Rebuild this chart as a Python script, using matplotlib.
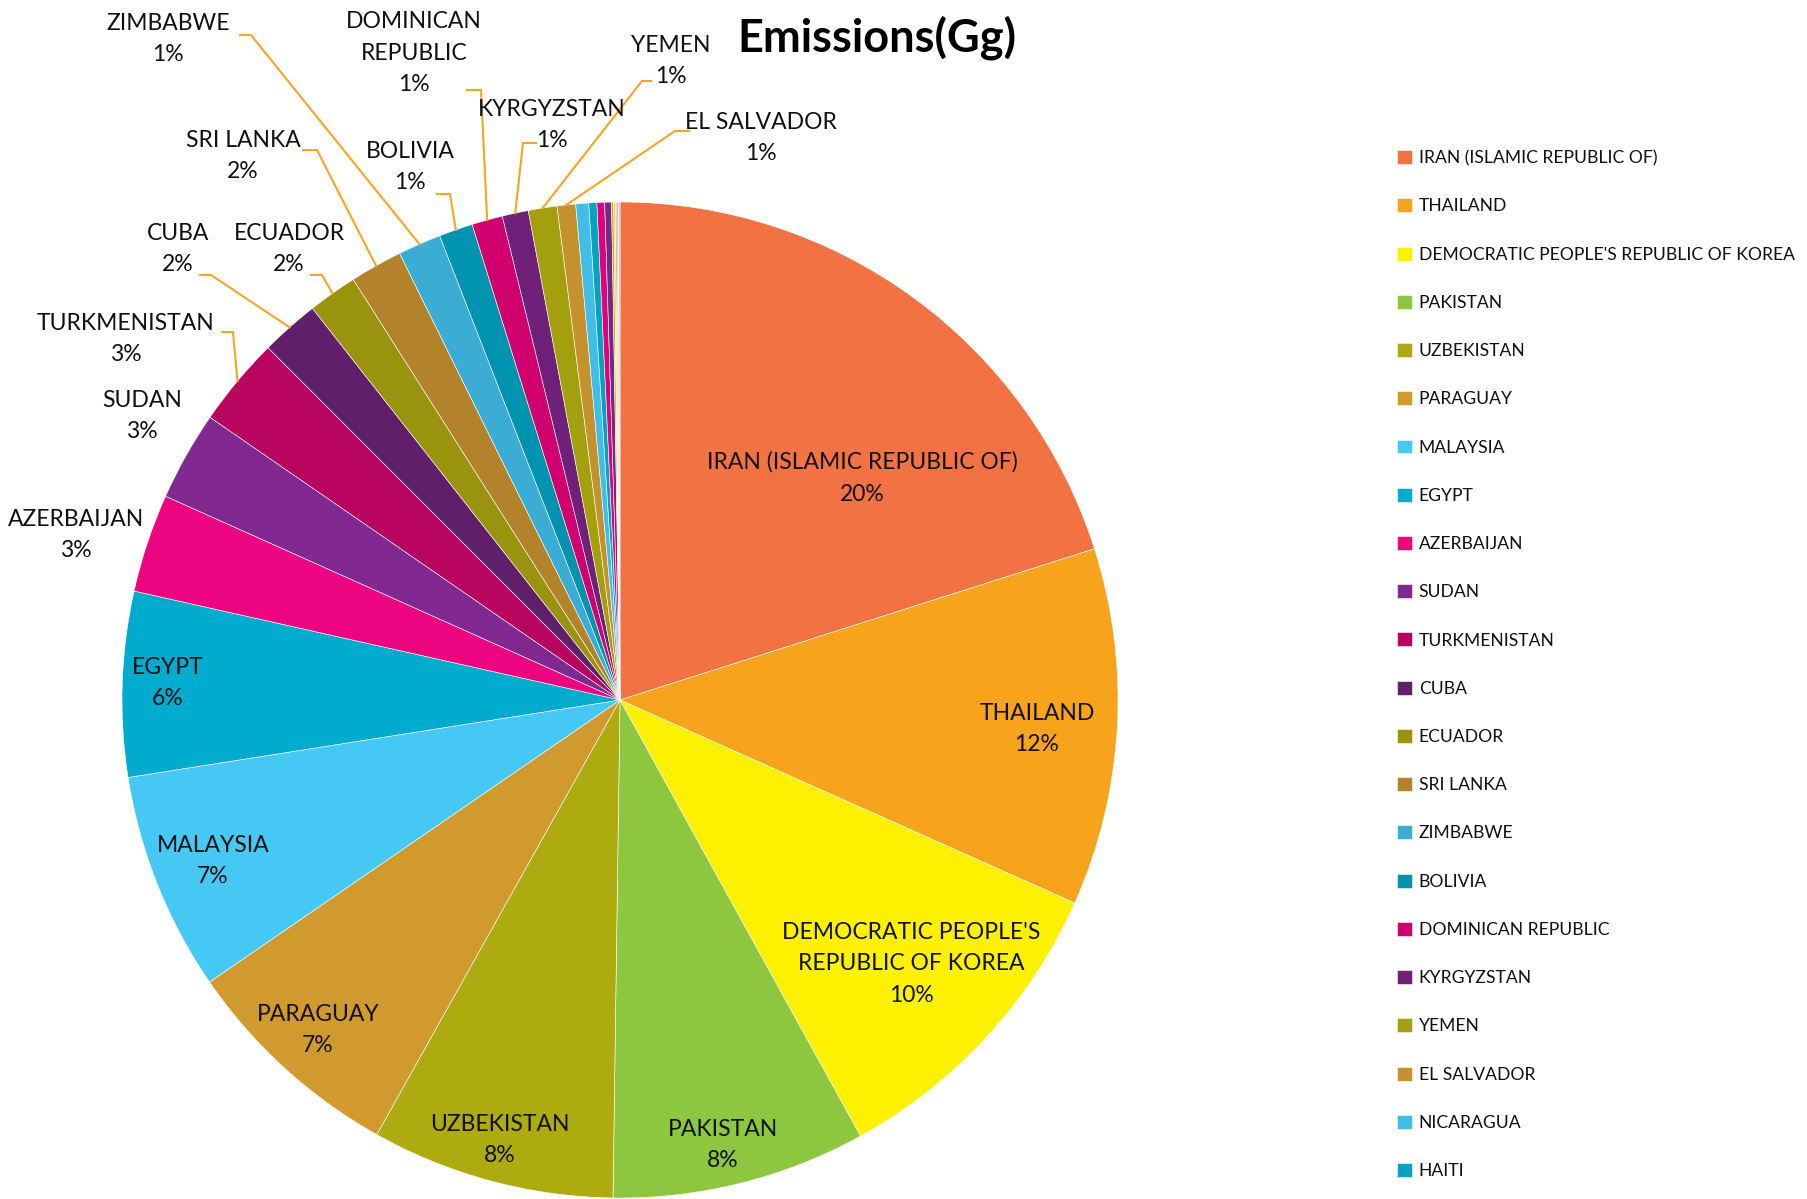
import matplotlib.pyplot as plt
import numpy as np

# share of emissions (%)
countries = ["IRAN (ISLAMIC REPUBLIC OF)", "THAILAND", "DEMOCRATIC PEOPLE'S REPUBLIC OF KOREA",
             "PAKISTAN", "UZBEKISTAN", "PARAGUAY", "MALAYSIA", "EGYPT", "AZERBAIJAN", "SUDAN",
             "TURKMENISTAN", "CUBA", "ECUADOR", "SRI LANKA", "ZIMBABWE", "BOLIVIA",
             "DOMINICAN REPUBLIC", "KYRGYZSTAN", "YEMEN", "EL SALVADOR", "NICARAGUA", "HAITI",
             "OTHER 1", "OTHER 2", "OTHER 3", "OTHER 4", "OTHER 5", "OTHER 6", "OTHER 7"]
shares = [20.1, 11.6, 10.3, 8.25, 7.9, 7.3, 7.1, 6.0, 3.2, 2.9,
          2.9, 1.9, 1.6, 1.7, 1.4, 1.1, 1.0, 0.85, 0.93, 0.6, 0.42, 0.26,
          0.25, 0.22, 0.07, 0.05, 0.05, 0.05, 0.05]
colors = ["#F27244", "#F7A31C", "#FEF100", "#8DC63F", "#ADAB0F", "#D09A2E", "#45C8F4",
          "#00ABCE", "#EC0480", "#812990", "#B8045E", "#601E6B", "#99930E", "#B2832A",
          "#3BADD5", "#0093AF", "#D0006F", "#6F2079", "#A39F0D", "#C4912C", "#42BDE6",
          "#00A3C2", "#E0007A", "#762983", "#B5B314", "#F0D030", "#E8A070", "#D8A0C8",
          "#C0C0C0"]
n_legend = 22

# names as wrapped on the chart labels
wrapped = {"DEMOCRATIC PEOPLE'S REPUBLIC OF KOREA": "DEMOCRATIC PEOPLE'S\nREPUBLIC OF KOREA",
           "DOMINICAN REPUBLIC": "DOMINICAN\nREPUBLIC"}

W, H = 1808, 1199
def Y(y):
    return H - y

# label centres in pixels (from top-left)
inside_pos = {"IRAN (ISLAMIC REPUBLIC OF)": (862, 478), "THAILAND": (1037, 729),
              "DEMOCRATIC PEOPLE'S REPUBLIC OF KOREA": (911, 964), "PAKISTAN": (723, 1145),
              "UZBEKISTAN": (500, 1140), "PARAGUAY": (318, 1030), "MALAYSIA": (213, 861),
              "EGYPT": (168, 683)}
outside_pos = {"AZERBAIJAN": (76, 535), "SUDAN": (142, 416), "TURKMENISTAN": (126, 339),
               "CUBA": (178, 249), "ECUADOR": (289, 249), "SRI LANKA": (243, 156),
               "ZIMBABWE": (168, 39), "BOLIVIA": (410, 167), "DOMINICAN REPUBLIC": (414, 53),
               "KYRGYZSTAN": (552, 125), "YEMEN": (671, 61), "EL SALVADOR": (761, 138)}
# leader line start and elbow
leaders = {"TURKMENISTAN": [(222, 332), (233, 332)], "CUBA": [(200, 275), (211, 275)],
           "ECUADOR": [(311, 275), (322, 275)], "SRI LANKA": [(303, 150), (317, 150)],
           "ZIMBABWE": [(240, 35), (251, 35)], "BOLIVIA": [(437, 194), (450, 194)],
           "DOMINICAN REPUBLIC": [(467, 90), (481, 90)], "KYRGYZSTAN": [(536, 143), (523, 143)],
           "YEMEN": [(651, 81), (642, 81)], "EL SALVADOR": [(689, 131), (675, 131)]}

cx, cy, R = 620, 700, 498
label_font = ["Lato", "DejaVu Sans"]

fig = plt.figure(figsize=(W / 100, H / 100), dpi=100)
ax = fig.add_axes([0, 0, 1, 1])

wedges, _ = ax.pie(shares, colors=colors, startangle=90, counterclock=False,
                   center=(cx, Y(cy)), radius=R, frame=True,
                   wedgeprops=dict(edgecolor="white", linewidth=0.4))
ax.set_xlim(0, W)
ax.set_ylim(0, H)
ax.set_aspect("equal")
ax.axis("off")

total = sum(shares)
for name, val, w in zip(countries, shares, wedges):
    txt = f"{wrapped.get(name, name)}\n{round(val / total * 100)}%"
    if name in inside_pos:
        x, y = inside_pos[name]
    elif name in outside_pos:
        x, y = outside_pos[name]
    else:
        continue
    ax.text(x, Y(y), txt, ha="center", va="center", fontsize=16.5, family=label_font,
            linespacing=1.62, color="#111111")
    if name in leaders:
        ang = np.deg2rad((w.theta1 + w.theta2) / 2)
        ex = cx + R * np.cos(ang)
        ey = Y(cy) + R * np.sin(ang)
        (x0, y0), (x1, y1) = leaders[name]
        ax.plot([x0, x1, ex], [Y(y0), Y(y1), ey], color="#F5A623", lw=1.5,
                solid_joinstyle="miter")

ax.text(877, Y(38), "Emissions(Gg)", ha="center", va="center", fontsize=32.5,
        fontweight="bold", family=label_font)

leg = ax.legend(wedges[:n_legend], countries[:n_legend], loc="upper left",
                bbox_to_anchor=(1390 / W, 1 - 143 / H), frameon=False,
                prop={"family": label_font, "size": 12.6},
                handlelength=0.85, handleheight=0.85, handletextpad=0.4,
                labelspacing=1.84, borderaxespad=0)
for t in leg.get_texts():
    t.set_color("#111111")

fig.savefig("out.png", dpi=100)
